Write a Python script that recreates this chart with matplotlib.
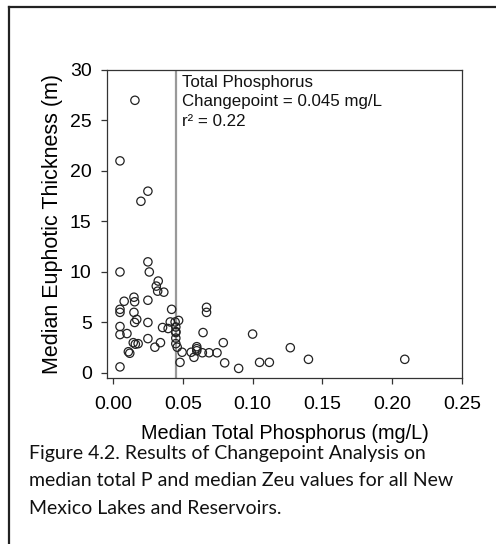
import matplotlib
matplotlib.use("Agg")
import matplotlib.pyplot as plt
from matplotlib.lines import Line2D

plt.rcParams['font.family'] = ['Liberation Sans', 'DejaVu Sans']

# Data
total_p = [0.0157, 0.005, 0.025, 0.020, 0.025, 0.005, 0.026, 0.0324, 0.031, 0.032,
           0.0364, 0.015, 0.008, 0.0155, 0.025, 0.005, 0.005, 0.015, 0.017, 0.0155,
           0.025, 0.005, 0.005, 0.010, 0.025, 0.0145, 0.016, 0.018, 0.011, 0.012,
           0.005, 0.030, 0.034, 0.0355, 0.0395, 0.042, 0.041, 0.0445, 0.047, 0.045,
           0.045, 0.045, 0.045, 0.045, 0.046, 0.0495, 0.048, 0.056, 0.058, 0.060,
           0.060, 0.060, 0.064, 0.0645, 0.067, 0.067, 0.0688, 0.0745, 0.079, 0.080,
           0.090, 0.100, 0.105, 0.112, 0.127, 0.140, 0.209]
zeu = [27.0, 21.0, 18.0, 17.0, 11.0, 10.0, 10.0, 9.1, 8.6, 8.1,
       8.0, 7.5, 7.1, 7.05, 7.2, 6.3, 6.0, 6.0, 5.3, 5.0,
       5.0, 4.6, 3.8, 3.9, 3.4, 3.0, 2.85, 2.9, 2.1, 1.95,
       0.6, 2.55, 3.0, 4.5, 4.4, 6.3, 5.05, 5.05, 5.2, 4.55,
       4.0, 3.45, 2.9, 4.1, 2.55, 2.05, 1.05, 2.05, 1.55, 2.6,
       2.4, 2.2, 2.0, 4.0, 6.5, 6.0, 2.0, 2.0, 3.0, 1.0,
       0.45, 3.85, 1.05, 1.05, 2.5, 1.35, 1.35]
changepoint = 0.045
x_ticks = [0.00, 0.05, 0.10, 0.15, 0.20, 0.25]
y_ticks = [0, 5, 10, 15, 20, 25, 30]

fig = plt.figure(figsize=(4.96, 5.44), dpi=100)
W, H = 496, 544
ax = fig.add_axes([107 / W, 1 - 378 / H, 355 / W, 308 / H])

ax.scatter(total_p, zeu, s=36, facecolors='none', edgecolors='#222222', linewidths=0.9, zorder=3)
ax.axvline(changepoint, color='#999999', lw=1.6, zorder=2)

ax.set_xlim(-0.0043, 0.25)
ax.set_ylim(-0.5, 30)
ax.set_xticks(x_ticks)
ax.set_xticklabels([f"{v:.2f}" for v in x_ticks])
ax.set_yticks(y_ticks)
ax.tick_params(direction='out', length=4, width=0.9, color='#333333', labelsize=14,
               top=False, right=False)
ax.tick_params(axis='x', pad=9)
ax.tick_params(axis='y', pad=7)
for s in ax.spines.values():
    s.set_color('#333333')
    s.set_linewidth(0.9)

ax.set_xlabel('Median Total Phosphorus (mg/L)', fontsize=14.3, labelpad=8)
ax.set_ylabel('Median Euphotic Thickness (m)', fontsize=15.5, labelpad=5)

ax.text(0.0494, 29.55, 'Total Phosphorus\nChangepoint = 0.045 mg/L\nr² = 0.22',
        fontsize=12.2, va='top', ha='left', linespacing=1.38, color='#111111')

# page border lines (top and left)
fig.add_artist(Line2D([9 / W, 1.0], [1 - 6.5 / H, 1 - 6.5 / H], color='#222222', lw=1.6))
fig.add_artist(Line2D([9 / W, 9 / W], [0, 1 - 6.5 / H], color='#222222', lw=1.6))

caption = ["Figure 4.2. Results of Changepoint Analysis on",
           "median total P and median Zeu values for all New",
           "Mexico Lakes and Reservoirs."]
for i, line in enumerate(caption):
    fig.text(29 / W, 1 - (453 + 27.5 * i) / H, line, fontsize=14, family=['Lato', 'DejaVu Sans'],
             va='center', ha='left', color='#111111')

fig.savefig('out.png', dpi=100)
